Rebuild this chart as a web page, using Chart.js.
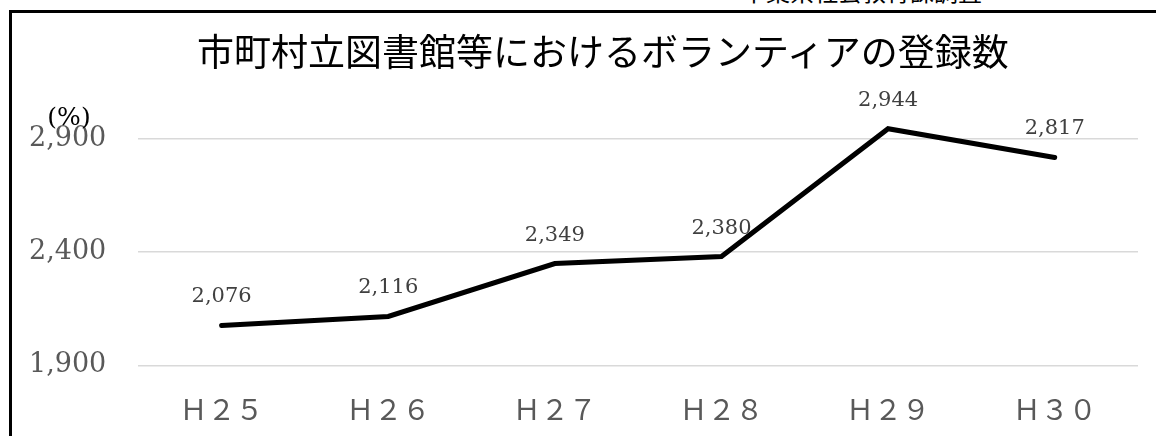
<!DOCTYPE html>
<html>
<head>
<meta charset="utf-8">
<script src="https://cdn.jsdelivr.net/npm/chart.js@4/dist/chart.umd.min.js"></script>
<style>
  html, body { margin: 0; padding: 0; background: #fff; }
  #page { position: relative; width: 1156px; height: 436px; overflow: hidden; }
  #src { position: absolute; left: 742px; top: -21px; font: 24px/24px "Noto Sans CJK JP"; color: #000; white-space: nowrap; }
  #frame { position: absolute; left: 9px; top: 10px; right: -10px; bottom: -10px; border-left: 3px solid #000; border-top: 3px solid #000; }
  #wrap { position: absolute; left: 0; top: 0; width: 1156px; height: 436px; }
  #title { position: absolute; left: 197px; width: 800px; top: 28px; text-align: center; font: 37px/44px "Noto Sans CJK JP"; color: #000; white-space: nowrap; }
</style>
</head>
<body>
<div id="page">
  <div id="src">千葉県社会教育課調査</div>
  <div id="frame"></div>
  <div id="wrap"><canvas id="chart"></canvas></div>
  <div id="title"></div>
</div>
<script>
// データ
const years = ['Ｈ２５', 'Ｈ２６', 'Ｈ２７', 'Ｈ２８', 'Ｈ２９', 'Ｈ３０'];
const volunteers = [2076, 2116, 2349, 2380, 2944, 2817];
const yTicks = [1900, 2400, 2900];
const chartTitle = '市町村立図書館等におけるボランティアの登録数';
const unitLabel = '(%)';

document.getElementById('title').textContent = chartTitle;

// 値ラベルと単位
const labelPlugin = {
    id: 'valueLabels',
    afterDatasetsDraw(chart) {
        const ctx = chart.ctx;
        const meta = chart.getDatasetMeta(0);
        ctx.save();
        ctx.font = '21px "DejaVu Serif"';
        ctx.fillStyle = '#404040';
        ctx.textAlign = 'center';
        ctx.textBaseline = 'alphabetic';
        meta.data.forEach((pt, i) => {
            ctx.fillText(volunteers[i].toLocaleString('en-US'), pt.x, pt.y - 23);
        });
        ctx.font = '25px "DejaVu Serif"';
        ctx.fillStyle = '#000';
        ctx.textBaseline = 'middle';
        ctx.fillText(unitLabel, 69, 118);
        ctx.restore();
    }
};

const ctx = document.getElementById('chart').getContext('2d');
const chart = new Chart(ctx, {
    type: 'line',
    data: {
        labels: years,
        datasets: [{
            data: volunteers,
            borderColor: '#000',
            borderWidth: 5,
            borderCapStyle: 'round',
            pointRadius: 0,
            tension: 0,
            fill: false
        }]
    },
    options: {
        responsive: true,
        maintainAspectRatio: false,
        animation: false,
        layout: {
            padding: { left: -3, right: 18, top: 116, bottom: -17 }
        },
        plugins: {
            legend: { display: false },
            tooltip: { enabled: false },
            title: { display: false }
        },
        scales: {
            x: {
                offset: true,
                grid: { display: false, drawTicks: false },
                border: { display: false },
                ticks: {
                    color: '#595959',
                    padding: 27,
                    font: { family: '"Noto Sans CJK JP"', size: 28 }
                }
            },
            y: {
                min: 1900,
                max: 3000,
                afterBuildTicks(axis) {
                    axis.ticks = yTicks.map(v => ({ value: v }));
                },
                grid: { color: '#d9d9d9', lineWidth: 1.5, drawTicks: false },
                border: { display: false },
                ticks: {
                    color: '#595959',
                    padding: 32,
                    font: { family: '"DejaVu Serif"', size: 27 },
                    callback: v => v.toLocaleString('en-US')
                }
            }
        }
    },
    plugins: [labelPlugin]
});
</script>
</body>
</html>
